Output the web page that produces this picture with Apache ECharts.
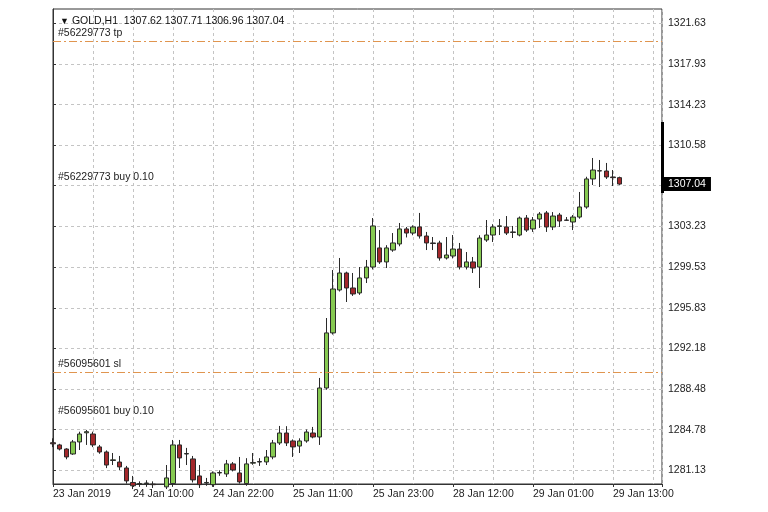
<!DOCTYPE html>
<html>
<head>
<meta charset="utf-8">
<script src="https://cdn.jsdelivr.net/npm/echarts@6/dist/echarts.min.js"></script>
<style>html,body{margin:0;padding:0;background:#fff}#c{width:768px;height:512px}</style>
</head>
<body>
<div id="c"></div>
<script>
const symbolName = "GOLD,H1";
const categories = [
"23 Jan 21:00","23 Jan 22:00","23 Jan 23:00",
"24 Jan 01:00","24 Jan 02:00","24 Jan 03:00","24 Jan 04:00","24 Jan 05:00","24 Jan 06:00","24 Jan 07:00","24 Jan 08:00","24 Jan 09:00","24 Jan 10:00","24 Jan 11:00","24 Jan 12:00","24 Jan 13:00","24 Jan 14:00","24 Jan 15:00","24 Jan 16:00","24 Jan 17:00","24 Jan 18:00","24 Jan 19:00","24 Jan 20:00","24 Jan 21:00","24 Jan 22:00","24 Jan 23:00",
"25 Jan 01:00","25 Jan 02:00","25 Jan 03:00","25 Jan 04:00","25 Jan 05:00","25 Jan 06:00","25 Jan 07:00","25 Jan 08:00","25 Jan 09:00","25 Jan 10:00","25 Jan 11:00","25 Jan 12:00","25 Jan 13:00","25 Jan 14:00","25 Jan 15:00","25 Jan 16:00","25 Jan 17:00","25 Jan 18:00","25 Jan 19:00","25 Jan 20:00","25 Jan 21:00","25 Jan 22:00","25 Jan 23:00",
"28 Jan 01:00","28 Jan 02:00","28 Jan 03:00","28 Jan 04:00","28 Jan 05:00","28 Jan 06:00","28 Jan 07:00","28 Jan 08:00","28 Jan 09:00","28 Jan 10:00","28 Jan 11:00","28 Jan 12:00","28 Jan 13:00","28 Jan 14:00","28 Jan 15:00","28 Jan 16:00","28 Jan 17:00","28 Jan 18:00","28 Jan 19:00","28 Jan 20:00","28 Jan 21:00","28 Jan 22:00","28 Jan 23:00",
"29 Jan 01:00","29 Jan 02:00","29 Jan 03:00","29 Jan 04:00","29 Jan 05:00","29 Jan 06:00","29 Jan 07:00","29 Jan 08:00","29 Jan 09:00","29 Jan 10:00","29 Jan 11:00","29 Jan 12:00","29 Jan 13:00","29 Jan 14:00"
];
const opens = [1283.60,1283.40,1283.03,1282.58,1283.67,1284.50,1284.39,1283.22,1282.76,1281.99,1281.85,1281.31,1280.00,1279.85,1279.90,1279.85,1279.60,1279.60,1279.90,1283.40,1282.58,1282.13,1280.59,1279.95,1279.80,1280.86,1280.77,1281.68,1280.86,1279.90,1281.75,1281.85,1281.86,1282.31,1283.58,1284.48,1283.76,1283.30,1283.76,1284.48,1284.12,1288.56,1293.55,1297.44,1298.98,1297.62,1297.17,1298.53,1299.52,1301.25,1299.98,1301.06,1301.61,1302.97,1302.60,1303.15,1302.33,1301.70,1301.70,1300.34,1300.52,1301.15,1299.52,1299.98,1299.52,1301.97,1302.42,1303.20,1303.15,1302.65,1302.42,1303.96,1302.97,1303.87,1304.42,1303.15,1304.23,1303.78,1303.60,1304.05,1304.96,1307.50,1308.22,1308.22,1307.68,1307.62];
const highs = [1284.00,1283.50,1283.10,1283.85,1284.60,1284.76,1284.60,1283.40,1282.90,1282.67,1282.40,1281.50,1280.59,1280.10,1280.20,1280.10,1279.70,1281.58,1283.85,1283.85,1283.13,1282.40,1281.58,1280.41,1281.00,1281.10,1282.04,1281.85,1282.31,1282.20,1282.67,1282.20,1282.94,1283.85,1285.12,1285.10,1283.90,1284.00,1284.80,1285.03,1289.47,1294.90,1299.25,1300.34,1299.10,1298.98,1299.52,1300.16,1303.96,1302.87,1301.50,1302.60,1303.51,1303.15,1303.30,1304.42,1302.70,1302.24,1301.90,1302.24,1302.42,1301.70,1300.88,1300.43,1302.40,1303.78,1303.40,1303.87,1304.14,1303.24,1304.10,1304.23,1304.05,1304.50,1304.60,1304.50,1304.42,1304.05,1304.23,1306.32,1307.70,1309.40,1309.22,1308.95,1308.31,1307.71];
const lows = [1283.20,1282.90,1282.10,1282.50,1282.94,1283.40,1283.20,1282.60,1281.30,1281.58,1281.13,1279.90,1279.40,1279.60,1279.60,1279.50,1279.00,1279.40,1279.60,1281.31,1281.58,1280.00,1279.50,1279.70,1279.60,1280.60,1280.50,1281.00,1279.90,1279.70,1281.60,1281.50,1281.58,1282.10,1283.40,1283.30,1282.31,1282.67,1283.60,1284.00,1283.40,1288.40,1293.40,1297.30,1296.35,1296.90,1297.00,1298.07,1299.30,1299.80,1299.43,1300.90,1301.40,1302.20,1302.40,1302.10,1301.06,1301.06,1300.10,1300.20,1300.30,1299.30,1299.30,1298.98,1297.62,1301.80,1301.79,1302.42,1302.42,1302.15,1302.30,1302.70,1302.70,1303.06,1302.70,1302.87,1303.15,1303.70,1302.87,1303.90,1304.80,1306.95,1306.77,1307.50,1306.86,1306.96];
const closes = [1283.50,1283.03,1282.31,1283.67,1284.39,1284.60,1283.40,1282.76,1281.58,1282.05,1281.41,1280.14,1279.70,1279.90,1279.95,1279.80,1279.30,1280.41,1283.40,1282.22,1282.62,1280.23,1279.80,1280.00,1280.86,1280.90,1281.68,1281.13,1280.05,1281.68,1281.80,1281.90,1282.31,1283.58,1284.48,1283.58,1283.22,1283.76,1284.57,1284.12,1288.56,1293.55,1297.53,1298.98,1297.62,1297.08,1298.53,1299.52,1303.24,1299.98,1301.25,1301.70,1302.97,1302.60,1303.15,1302.33,1301.70,1301.65,1300.34,1300.61,1301.15,1299.52,1299.98,1299.43,1302.15,1302.42,1303.15,1303.25,1302.60,1302.70,1303.96,1302.87,1303.78,1304.32,1303.15,1304.14,1303.69,1303.75,1304.05,1304.96,1307.50,1308.31,1308.25,1307.68,1307.62,1307.04];
const xTickLabels = ["23 Jan 2019","24 Jan 10:00","24 Jan 22:00","25 Jan 11:00","25 Jan 23:00","28 Jan 12:00","29 Jan 01:00","29 Jan 13:00"];
const yGridValues = [1281.13,1284.78,1288.48,1292.18,1295.83,1299.53,1303.23,1306.90,1310.58,1314.23,1317.93,1321.63];
const yLabelValues = [1281.13,1284.78,1288.48,1292.18,1295.83,1299.53,1303.23,1310.58,1314.23,1317.93,1321.63];
const orderLevels = [
  {name:"#56229773 tp", price:1320.00, kind:"stop"},
  {name:"#56229773 buy 0.10", price:1307.00, kind:"entry"},
  {name:"#56095601 sl", price:1290.00, kind:"stop"},
  {name:"#56095601 buy 0.10", price:1285.80, kind:"entry"}
];
const rangeBar = [1306.23, 1312.66];

const yMin = 1279.86, yMax = 1322.90;
const xMin = 0, xMax = 91.35;
const FONT = "'Liberation Sans', Arial, sans-serif";
const last = opens.length - 1;

const candleData = opens.map((o, i) => [i, o, closes[i], lows[i], highs[i]]);

const orderLineData = orderLevels.map(l => ({
  yAxis: l.price,
  lineStyle: l.kind === 'stop'
    ? {color:'#e0954f', width:1, type:[8,3,2,3]}
    : {color:'rgba(0,0,0,0)', width:1},
  label: {show:true, position:'insideStartTop', distance:[5,2], formatter:l.name,
          color:'#222', fontSize:10.5, fontFamily:FONT}
}));
orderLineData.push({
  yAxis: closes[last],
  lineStyle: {color:'rgba(0,0,0,0)', width:1},
  label: {show:true, position:'end', distance:1, formatter: closes[last].toFixed(2),
          backgroundColor:'#000', color:'#fff', padding:[2,5,1,5], fontSize:10.5, fontFamily:FONT}
});

const gridStyle = {color:'#c4c4c4', width:1, type:[3,3]};

const chart = echarts.init(document.getElementById('c'), null, {renderer:'canvas'});
chart.setOption({
  animation:false,
  backgroundColor:'#ffffff',
  title:{
    text:'{tri|▼}' + symbolName + '  ' + [opens[last], highs[last], lows[last], closes[last]].map(v=>v.toFixed(2)).join(' '),
    left:55, top:11,
    textStyle:{fontSize:10.5, fontWeight:'normal', color:'#111', fontFamily:FONT,
      rich:{tri:{fontSize:9, color:'#111', fontFamily:FONT, padding:[0,3,0,0]}}}
  },
  grid:{left:53, right:106, top:9, bottom:28, show:true, borderColor:'#333', borderWidth:1},
  xAxis:[
    {type:'value', min:xMin, max:xMax, interval:6, gridIndex:0, position:'bottom',
     axisLine:{show:true, lineStyle:{color:'#333'}}, axisTick:{show:false}, axisLabel:{show:false},
     splitLine:{show:true, lineStyle:gridStyle}},
    {type:'value', min:xMin, max:xMax, interval:12, gridIndex:0, position:'bottom',
     axisLine:{show:false}, axisTick:{show:true, length:3, lineStyle:{color:'#333'}},
     axisLabel:{show:true, align:'left', margin:5, color:'#222', fontSize:10.5, fontFamily:FONT,
       formatter:v => { const k = v/12; return (Number.isInteger(k) && xTickLabels[k]) ? xTickLabels[k] : ''; }},
     splitLine:{show:false}}
  ],
  yAxis:{type:'value', position:'right', min:yMin, max:yMax, scale:true,
    axisLine:{show:true, lineStyle:{color:'#333'}},
    axisTick:{show:true, length:3, lineStyle:{color:'#333'}, customValues:yGridValues},
    axisLabel:{show:true, margin:6, color:'#222', fontSize:10.5, fontFamily:FONT,
      customValues:yLabelValues, formatter:v => Number(v).toFixed(2)},
    splitLine:{show:true, lineStyle:gridStyle}},
  series:[
    {type:'candlestick', xAxisIndex:0, yAxisIndex:0, data:candleData,
     encode:{x:0, y:[1,2,3,4]}, barWidth:5, clip:true,
     itemStyle:{color:'#86c951', color0:'#a3282b', borderColor:'#2a2a2a', borderColor0:'#2a2a2a', borderWidth:1}},
    {type:'line', xAxisIndex:0, yAxisIndex:0, data:[], silent:true, z:5,
     markLine:{symbol:'none', silent:true, animation:false, data:orderLineData}}
  ]
});

const yTop = chart.convertToPixel({yAxisIndex:0}, rangeBar[1]);
const yBot = chart.convertToPixel({yAxisIndex:0}, rangeBar[0]);
const xR = chart.convertToPixel({xAxisIndex:0}, xMax);
chart.setOption({graphic:[{type:'rect', z:100,
  shape:{x:xR - 1, y:yTop, width:3, height:yBot - yTop}, style:{fill:'#000'}}]});
</script>
</body>
</html>
